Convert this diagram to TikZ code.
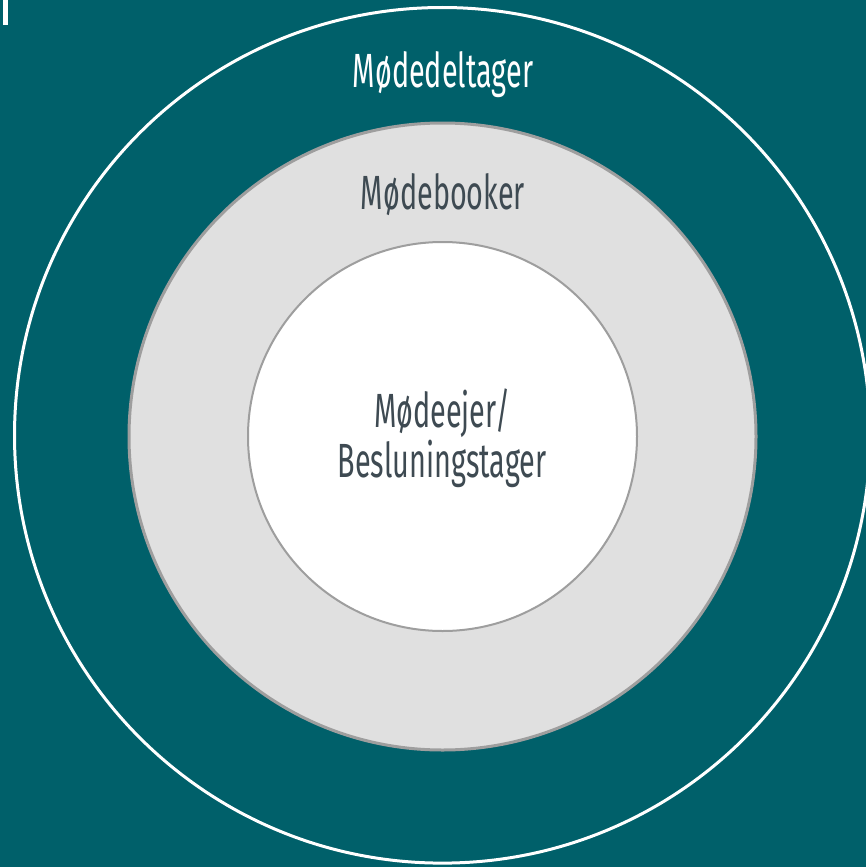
\documentclass[tikz,border=0pt]{standalone}
\usepackage{fontspec}
\setmainfont{Fira Sans}[FakeStretch=0.6]
\definecolor{teal0}{HTML}{00606A}
\definecolor{ringgray}{HTML}{E0E0E0}
\definecolor{edgegray}{HTML}{9E9E9E}
\definecolor{txtdark}{HTML}{3E4A52}
\tikzset{
  lbl/.style={anchor=base, inner sep=0pt, font=\fontsize{48}{50}\selectfont},
}
\begin{document}
\begin{tikzpicture}[x=1pt,y=-1pt]
\useasboundingbox (0,0) rectangle (866,867);
\fill[teal0] (0,0) rectangle (866,867);
\fill[white] (3,0) rectangle (8,25);
\draw[white, line width=3pt] (442.3,435.3) circle[radius=427.8];
\draw[edgegray, fill=ringgray, line width=3pt] (442.5,436.5) circle[radius=313.5];
\draw[edgegray, fill=white, line width=2pt] (442.5,436.5) circle[radius=194.5];
\node[lbl, text=white] (deltager) at (443,88) {Mødedeltager};
\node[lbl, text=txtdark] (booker) at (443,209) {Mødebooker};
\node[lbl, text=txtdark] (ejer1) at (442,427) {Mødeejer/};
\node[lbl, text=txtdark] (ejer2) at (442,477) {Besluningstager};
\end{tikzpicture}
\end{document}
